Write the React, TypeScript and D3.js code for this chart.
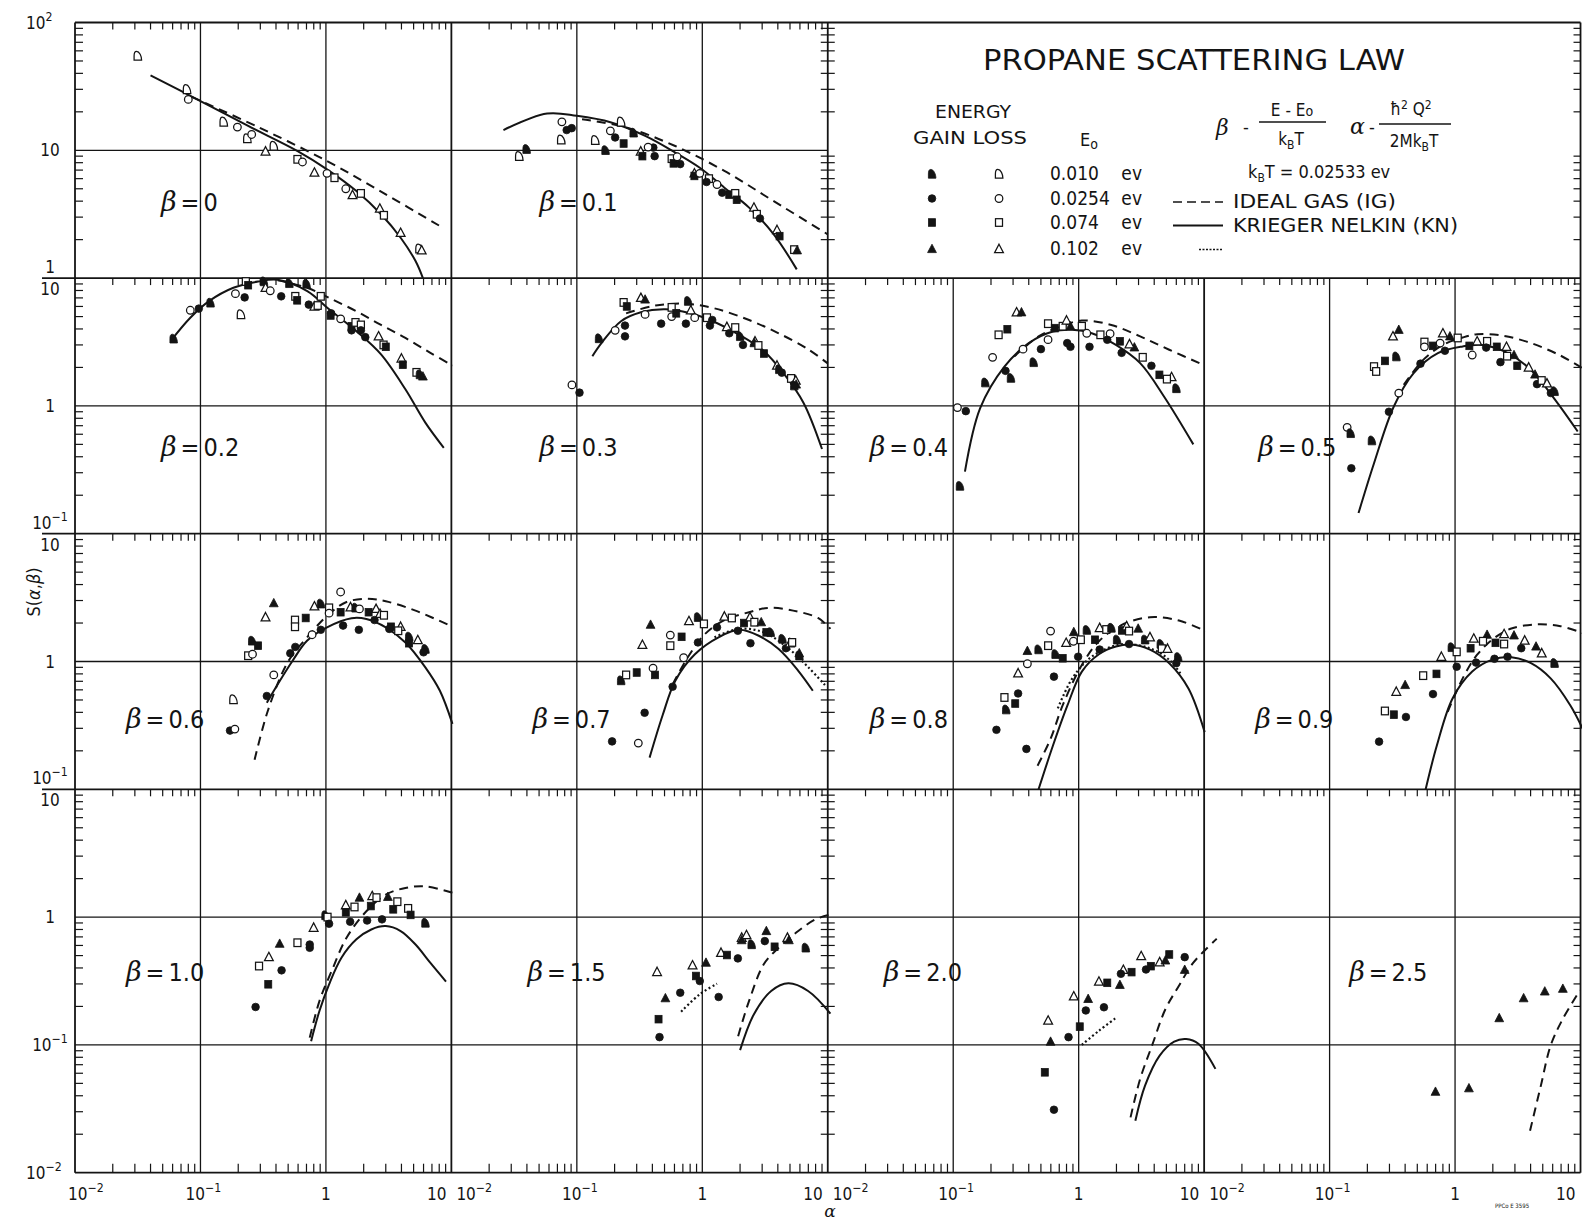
import * as d3 from "d3"

type Pt = [number, number, string]
type XY = [number, number]

// marker codes: D = 0.010 ev, C = 0.0254 ev, S = 0.074 ev, T = 0.102 ev ; g = energy gain (filled), l = energy loss (open)

const BETAS = ["0", "0.1", "0.2", "0.3", "0.4", "0.5", "0.6", "0.7", "0.8", "0.9", "1.0", "1.5", "2.0", "2.5"]

const ENERGY_VALUES = ["0.010", "0.0254", "0.074", "0.102"]
const ENERGY_MARKERS = ["D", "C", "S", "T"]
const LINE_NAMES = ["IDEAL GAS (IG)", "KRIEGER NELKIN (KN)", ""]

const Y_DOMAINS: XY[] = [[1, 100], [0.1, 10], [0.1, 10], [0.01, 10]]
const X_DOMAIN: XY = [0.01, 10]

// beta = 0
const pts_b00: Pt[] = [
    [0.0316, 54.8, "Dl"], [0.078, 30, "Dl"], [0.08, 25, "Cl"], [0.153, 16.7, "Dl"], [0.197, 15.2, "Cl"],
    [0.236, 12.4, "Dl"], [0.256, 13.3, "Cl"], [0.33, 9.8, "Tl"], [0.384, 10.8, "Dl"], [0.593, 8.5, "Sl"],
    [0.65, 8.1, "Cl"], [0.81, 6.7, "Tl"], [1.02, 6.6, "Cl"], [1.17, 6.1, "Sl"], [1.44, 5.0, "Cl"],
    [1.63, 4.47, "Tl"], [1.9, 4.6, "Sl"], [2.69, 3.5, "Tl"], [2.9, 3.1, "Sl"], [3.94, 2.26, "Tl"],
    [5.56, 1.7, "Dl"], [5.8, 1.65, "Tl"],
]
const kn_b00: XY[] = [
    [0.04, 38.6], [0.1, 24.3], [0.24, 15.5], [0.59, 9.9], [1.02, 7.1], [1.75, 4.8],
    [2.75, 3.16], [3.94, 2.07], [5.18, 1.36], [5.93, 1.0],
]
const ig_b00: XY[] = [[0.085, 26.2], [0.288, 15.2], [1.02, 8.24], [3.0, 4.52], [8.13, 2.55]]

// beta = 0.1
const pts_b01: Pt[] = [
    [0.0347, 9.0, "Dl"], [0.0397, 10.2, "Dg"], [0.076, 16.7, "Cl"], [0.083, 14.4, "Cg"], [0.091, 14.9, "Cg"],
    [0.075, 12.1, "Dl"], [0.14, 12, "Dl"], [0.169, 10, "Dg"], [0.225, 16.7, "Dl"], [0.185, 14.2, "Cl"],
    [0.202, 12.6, "Cg"], [0.236, 11.3, "Sg"], [0.283, 13.7, "Dg"], [0.323, 9.8, "Tl"], [0.333, 9.0, "Sg"],
    [0.407, 10.5, "Cg"], [0.417, 9.0, "Cg"], [0.37, 10.6, "Cl"], [0.57, 8.6, "Sl"], [0.59, 7.9, "Sg"],
    [0.667, 7.8, "Cg"], [0.63, 8.9, "Cl"], [0.865, 6.6, "Tl"], [0.865, 6.3, "Sg"], [0.955, 6.6, "Cl"],
    [1.13, 6.0, "Sl"], [1.08, 5.65, "Cg"], [1.31, 5.4, "Cl"], [1.44, 4.66, "Cg"], [1.64, 4.5, "Sg"],
    [1.83, 4.6, "Sl"], [1.88, 4.1, "Sg"], [2.58, 3.56, "Tl"], [2.72, 3.16, "Sl"], [2.88, 2.93, "Cg"],
    [3.94, 2.38, "Tl"], [4.13, 2.13, "Sg"], [5.4, 1.67, "Sl"], [5.7, 1.65, "Tg"],
]
const kn_b01: XY[] = [
    [0.026, 14.4], [0.058, 19.4], [0.1, 18.6], [0.188, 16.5], [0.354, 12.9], [0.608, 9.6],
    [0.955, 7.3], [1.5, 5.1], [2.36, 3.56], [3.71, 2.2], [5.66, 1.17],
]
const ig_b01: XY[] = [[0.11, 17.5], [0.247, 15.1], [0.608, 10.8], [1.5, 6.9], [3.71, 4.0], [10, 2.2]]

// beta = 0.2
const pts_b02: Pt[] = [
    [0.061, 3.35, "Dg"], [0.083, 5.6, "Cl"], [0.097, 5.77, "Cg"], [0.12, 6.4, "Dg"], [0.19, 7.55, "Cl"],
    [0.225, 7.06, "Cg"], [0.21, 5.2, "Dl"], [0.23, 9.4, "Sl"], [0.24, 8.8, "Sg"], [0.32, 9.4, "Dg"],
    [0.33, 8.4, "Tl"], [0.36, 7.96, "Cl"], [0.44, 7.2, "Cg"], [0.51, 9.1, "Dg"], [0.57, 7.2, "Sl"],
    [0.59, 6.7, "Sg"], [0.7, 9.0, "Dg"], [0.73, 6.2, "Cg"], [0.81, 6.0, "Tl"], [0.86, 6.1, "Sl"],
    [0.91, 7.2, "Sl"], [1.09, 5.1, "Sg"], [1.1, 5.3, "Cg"], [1.31, 4.8, "Cl"], [1.6, 4.2, "Sg"],
    [1.6, 3.9, "Cg"], [1.72, 4.5, "Sl"], [1.9, 4.3, "Sl"], [1.9, 3.9, "Cg"], [2.06, 3.45, "Cg"],
    [2.63, 3.5, "Tl"], [2.88, 3.0, "Sl"], [3.0, 2.9, "Sg"], [4.0, 2.35, "Tl"], [4.1, 2.1, "Sg"],
    [5.27, 1.83, "Sl"], [5.6, 1.76, "Dg"], [5.93, 1.7, "Tg"],
]
const kn_b02: XY[] = [
    [0.059, 3.3], [0.083, 4.9], [0.117, 6.6], [0.183, 8.4], [0.288, 9.4], [0.413, 9.7], [0.71, 7.9],
    [1.06, 5.7], [1.75, 3.84], [2.75, 2.53], [4.3, 1.35], [6.2, 0.74], [8.7, 0.47],
]
const ig_b02: XY[] = [[0.413, 9.6], [0.71, 8.4], [1.06, 7.0], [1.75, 5.5], [2.75, 4.3], [4.3, 3.4], [6.8, 2.6], [10.2, 2.07]]

// beta = 0.3
const pts_b03: Pt[] = [
    [0.0914, 1.46, "Cl"], [0.105, 1.27, "Cg"], [0.15, 3.37, "Dg"], [0.202, 3.9, "Cl"], [0.242, 4.25, "Cg"],
    [0.242, 3.5, "Cg"], [0.236, 6.45, "Sl"], [0.25, 6.0, "Sg"], [0.324, 7.0, "Tl"], [0.35, 6.8, "Tg"],
    [0.35, 5.2, "Cl"], [0.47, 4.4, "Cg"], [0.57, 5.0, "Cl"], [0.57, 5.9, "Sl"], [0.62, 5.3, "Sg"],
    [0.74, 4.4, "Cg"], [0.77, 6.6, "Dg"], [0.81, 5.6, "Tl"], [0.87, 4.9, "Cl"], [1.09, 4.9, "Sl"],
    [1.15, 4.25, "Cg"], [1.2, 4.7, "Cg"], [1.57, 4.15, "Tl"], [1.64, 3.7, "Cg"], [1.83, 4.1, "Sl"],
    [2.0, 3.5, "Dg"], [2.11, 3.0, "Cg"], [2.63, 3.2, "Tl"], [2.6, 3.1, "Tg"], [2.8, 2.97, "Sl"],
    [3.1, 2.57, "Sg"], [3.94, 2.07, "Tl"], [4.1, 1.93, "Dg"], [4.3, 1.82, "Cg"], [5.1, 1.64, "Sl"],
    [5.56, 1.58, "Tl"], [5.6, 1.47, "Tg"], [5.4, 1.44, "Dg"],
]
const kn_b03: XY[] = [
    [0.133, 2.45], [0.157, 3.1], [0.225, 4.6], [0.324, 5.4], [0.508, 5.7], [0.8, 5.3], [1.15, 4.7],
    [1.97, 3.6], [3.09, 2.69], [4.4, 1.82], [6.4, 1.06], [9.0, 0.46],
]
const ig_b03: XY[] = [[0.247, 5.3], [0.424, 6.1], [0.73, 6.3], [1.25, 5.8], [2.36, 4.7], [4.06, 3.7], [7.0, 2.77], [10, 2.15]]

// beta = 0.4
const pts_b04: Pt[] = [
    [0.108, 0.97, "Cl"], [0.126, 0.91, "Cg"], [0.113, 0.236, "Dg"], [0.18, 1.52, "Dg"], [0.206, 2.4, "Cl"],
    [0.261, 1.88, "Cg"], [0.288, 1.65, "Dg"], [0.23, 3.6, "Sl"], [0.27, 3.98, "Sg"], [0.32, 5.4, "Tl"],
    [0.35, 5.4, "Tg"], [0.36, 2.78, "Cl"], [0.437, 2.19, "Dg"], [0.5, 2.78, "Cg"], [0.57, 3.3, "Cl"],
    [0.57, 4.4, "Sl"], [0.645, 4.06, "Sg"], [0.746, 4.2, "Sl"], [0.8, 4.66, "Tl"], [0.86, 4.2, "Tg"],
    [0.81, 3.1, "Cg"], [0.86, 2.9, "Cg"], [1.06, 4.2, "Sl"], [1.16, 3.7, "Cl"], [1.22, 2.9, "Cg"],
    [1.49, 3.6, "Sl"], [1.78, 3.67, "Cl"], [1.69, 3.29, "Cg"], [2.13, 3.2, "Sg"], [2.2, 2.6, "Cg"],
    [2.78, 2.87, "Tg"], [2.54, 3.04, "Tl"], [3.24, 2.4, "Sl"], [3.8, 2.06, "Cg"], [4.4, 1.75, "Sg"],
    [5.5, 1.68, "Tl"], [5.05, 1.62, "Sl"], [6.0, 1.37, "Dg"],
]
const kn_b04: XY[] = [
    [0.124, 0.306], [0.164, 0.96], [0.256, 2.03], [0.4, 3.1], [0.624, 3.82], [0.89, 3.94], [1.27, 3.7],
    [1.98, 3.0], [3.09, 2.16], [4.8, 1.18], [8.2, 0.5],
]
const ig_b04: XY[] = [[0.306, 2.43], [0.479, 3.5], [0.746, 4.24], [1.06, 4.66], [1.82, 4.3], [3.09, 3.5], [5.27, 2.75], [9.8, 2.1]]

// beta = 0.5
const pts_b05: Pt[] = [
    [0.138, 0.68, "Cl"], [0.147, 0.61, "Dg"], [0.149, 0.325, "Cg"], [0.217, 0.535, "Dg"], [0.226, 2.03, "Sl"],
    [0.235, 1.86, "Sl"], [0.276, 2.25, "Sg"], [0.32, 3.5, "Tl"], [0.356, 3.94, "Tg"], [0.34, 2.43, "Dg"],
    [0.356, 1.26, "Cl"], [0.297, 0.9, "Cg"], [0.53, 2.14, "Cg"], [0.57, 3.16, "Sl"], [0.57, 2.9, "Cl"],
    [0.667, 2.95, "Sg"], [0.76, 3.1, "Cl"], [0.8, 3.7, "Tl"], [0.91, 3.5, "Tg"], [1.05, 3.4, "Sl"],
    [0.83, 2.7, "Cg"], [1.5, 3.2, "Tl"], [1.8, 3.2, "Sl"], [1.3, 2.95, "Sg"], [1.77, 2.86, "Cg"],
    [1.37, 2.5, "Cl"], [2.15, 2.9, "Sg"], [2.57, 2.9, "Tl"], [2.95, 2.5, "Tg"], [2.6, 2.45, "Sl"],
    [2.3, 2.2, "Cg"], [3.13, 2.06, "Sg"], [3.86, 2.0, "Tl"], [4.34, 1.76, "Tg"], [4.5, 1.48, "Cg"],
    [4.9, 1.58, "Sl"], [5.4, 1.5, "Tl"], [5.8, 1.26, "Cg"], [6.2, 1.3, "Dg"],
]
const kn_b05: XY[] = [
    [0.17, 0.145], [0.226, 0.356], [0.325, 0.99], [0.466, 1.8], [0.73, 2.59], [1.15, 2.92], [1.64, 3.0],
    [2.57, 2.62], [4.03, 1.91], [6.3, 1.11], [9.5, 0.63],
]
const ig_b05: XY[] = [[0.39, 1.46], [0.557, 2.29], [0.8, 3.0], [1.15, 3.43], [1.5, 3.64], [2.35, 3.56], [4.03, 3.1], [6.9, 2.48], [10.4, 1.97]]

// beta = 0.6
const pts_b06: Pt[] = [
    [0.172, 0.288, "Cg"], [0.188, 0.296, "Cl"], [0.183, 0.505, "Dl"], [0.24, 1.11, "Sl"], [0.26, 1.14, "Cl"],
    [0.258, 1.45, "Dg"], [0.288, 1.33, "Sg"], [0.33, 2.22, "Tl"], [0.384, 2.86, "Tg"], [0.384, 0.785, "Cl"],
    [0.338, 0.537, "Cg"], [0.567, 2.11, "Sl"], [0.567, 1.87, "Sl"], [0.69, 2.19, "Sg"], [0.52, 1.16, "Cg"],
    [0.57, 1.3, "Cg"], [0.776, 1.62, "Cl"], [0.91, 1.77, "Cg"], [0.81, 2.7, "Tl"], [0.91, 2.83, "Dg"],
    [1.06, 2.63, "Sl"], [1.06, 2.39, "Cl"], [1.31, 3.5, "Cl"], [1.31, 2.43, "Sg"], [1.37, 1.91, "Cg"],
    [1.57, 2.66, "Tl"], [1.72, 2.63, "Dg"], [1.85, 2.58, "Cl"], [1.83, 1.77, "Cg"], [2.19, 2.43, "Sg"],
    [2.51, 2.58, "Tl"], [2.44, 2.11, "Cg"], [2.7, 2.36, "Tl"], [2.9, 2.3, "Sl"], [3.3, 1.87, "Sg"],
    [3.2, 1.8, "Cg"], [3.94, 1.87, "Tl"], [3.77, 1.74, "Sl"], [4.6, 1.56, "Dg"], [4.6, 1.39, "Sg"],
    [5.4, 1.47, "Tl"], [6.2, 1.25, "Dg"], [6.0, 1.18, "Cg"],
]
const kn_b06: XY[] = [
    [0.338, 0.475], [0.413, 0.664], [0.541, 1.01], [0.71, 1.46], [1.02, 1.85], [1.6, 2.18], [2.1, 2.15],
    [3.0, 1.85], [4.3, 1.41], [6.2, 0.9], [8.1, 0.59], [10.2, 0.325],
]
const ig_b06: XY[] = [
    [0.27, 0.17], [0.344, 0.41], [0.494, 0.98], [0.71, 1.55], [1.06, 2.36], [1.46, 2.92], [2.1, 3.1],
    [3.0, 2.96], [5.18, 2.5], [10.2, 1.87],
]

// beta = 0.7
const pts_b07: Pt[] = [
    [0.191, 0.237, "Cg"], [0.309, 0.23, "Cl"], [0.347, 0.397, "Cg"], [0.225, 0.71, "Dg"], [0.247, 0.785, "Sl"],
    [0.3, 0.82, "Sg"], [0.405, 0.887, "Cl"], [0.42, 0.785, "Sg"], [0.333, 1.35, "Tl"], [0.387, 1.94, "Tg"],
    [0.556, 1.61, "Cl"], [0.556, 1.33, "Sl"], [0.684, 1.56, "Sg"], [0.71, 1.07, "Cl"], [0.58, 0.635, "Cg"],
    [0.783, 2.07, "Tl"], [0.923, 2.22, "Dg"], [1.03, 1.97, "Sl"], [0.923, 1.41, "Cg"], [1.31, 1.85, "Cg"],
    [1.5, 2.25, "Tl"], [1.72, 2.19, "Sl"], [2.15, 2.0, "Sg"], [2.4, 2.22, "Tl"], [2.6, 2.03, "Sl"],
    [2.95, 2.03, "Tg"], [1.92, 1.74, "Cg"], [2.42, 1.39, "Cg"], [3.24, 1.69, "Sg"], [3.5, 1.69, "Dg"],
    [4.35, 1.5, "Dg"], [4.64, 1.27, "Cg"], [4.99, 1.39, "Tl"], [5.2, 1.41, "Sl"], [5.93, 1.11, "Dg"],
    [5.93, 1.16, "Tg"],
]
const kn_b07: XY[] = [
    [0.38, 0.177], [0.485, 0.385], [0.608, 0.705], [0.873, 1.14], [1.37, 1.56], [1.97, 1.77], [2.82, 1.59],
    [4.06, 1.25], [5.82, 0.845], [7.6, 0.59],
]
const ig_b07: XY[] = [
    [0.582, 0.664], [0.762, 1.07], [1.05, 1.64], [1.5, 2.11], [2.36, 2.43], [3.38, 2.63], [5.3, 2.5],
    [8.36, 2.19], [10.5, 1.8],
]
const dot_b07: XY[] = [[1.25, 1.55], [1.97, 1.8], [3.09, 1.69], [4.85, 1.27], [7.0, 0.9], [9.5, 0.655]]

// beta = 0.8
const pts_b08: Pt[] = [
    [0.221, 0.292, "Cg"], [0.383, 0.207, "Cg"], [0.264, 0.42, "Dg"], [0.312, 0.469, "Sg"], [0.256, 0.523, "Sl"],
    [0.329, 0.562, "Cg"], [0.329, 0.809, "Tl"], [0.39, 0.96, "Cl"], [0.635, 0.761, "Cg"], [0.39, 1.21, "Tg"],
    [0.478, 1.24, "Dg"], [0.597, 1.73, "Cl"], [0.571, 1.33, "Sl"], [0.653, 1.14, "Dg"], [0.746, 1.06, "Sg"],
    [0.795, 1.4, "Tl"], [0.908, 1.44, "Cl"], [0.914, 1.7, "Tg"], [1.16, 1.76, "Dg"], [1.04, 1.48, "Sl"],
    [0.99, 1.09, "Cg"], [1.35, 1.48, "Sg"], [1.47, 1.24, "Cg"], [1.47, 1.83, "Tl"], [1.66, 1.78, "Sl"],
    [1.82, 1.83, "Dg"], [2.02, 1.48, "Dg"], [2.52, 1.37, "Cg"], [2.21, 1.75, "Sg"], [2.41, 1.89, "Tl"],
    [2.52, 1.73, "Sl"], [2.98, 1.81, "Tg"], [3.38, 1.48, "Dg"], [3.7, 1.55, "Tl"], [4.5, 1.37, "Dg"],
    [4.6, 1.26, "Sl"], [5.1, 1.26, "Tl"], [6.2, 1.08, "Dg"], [6.0, 0.97, "Cg"],
]
const kn_b08: XY[] = [
    [0.479, 0.1], [0.624, 0.22], [0.815, 0.455], [1.06, 0.834], [1.45, 1.14], [1.98, 1.31], [2.59, 1.36],
    [3.7, 1.24], [5.27, 0.97], [7.5, 0.615], [10.1, 0.28],
]
const ig_b08: XY[] = [
    [0.47, 0.153], [0.597, 0.248], [0.746, 0.455], [1.06, 0.94], [1.45, 1.44], [2.17, 1.92], [3.7, 2.22],
    [6.3, 2.09], [10.3, 1.73],
]
const dot_b08: XY[] = [[0.682, 0.43], [0.89, 0.738], [1.27, 1.09], [2.17, 1.36], [3.7, 1.27], [5.27, 1.03], [6.6, 0.785]]

// beta = 0.9
const pts_b09: Pt[] = [
    [0.248, 0.236, "Cg"], [0.276, 0.41, "Sl"], [0.325, 0.384, "Sg"], [0.406, 0.368, "Cg"], [0.34, 0.58, "Tl"],
    [0.4, 0.655, "Tg"], [0.667, 0.556, "Cg"], [0.557, 0.775, "Sl"], [0.711, 0.8, "Sg"], [0.778, 1.09, "Tl"],
    [0.94, 1.29, "Dg"], [1.03, 1.19, "Sl"], [1.03, 0.91, "Cg"], [1.41, 1.51, "Tl"], [1.8, 1.62, "Tg"],
    [1.67, 1.44, "Sl"], [1.33, 1.27, "Sg"], [1.47, 0.98, "Cg"], [2.06, 1.05, "Cg"], [2.1, 1.4, "Sg"],
    [2.46, 1.64, "Tl"], [2.95, 1.6, "Tg"], [2.46, 1.37, "Sl"], [2.62, 1.09, "Cg"], [3.37, 1.27, "Cg"],
    [3.59, 1.46, "Tl"], [4.42, 1.31, "Tg"], [4.91, 1.16, "Tl"], [6.2, 0.97, "Dg"],
]
const kn_b09: XY[] = [
    [0.583, 0.1], [0.716, 0.22], [0.955, 0.514], [1.37, 0.834], [1.96, 1.03], [2.81, 1.08], [4.03, 0.97],
    [5.78, 0.738], [8.28, 0.455], [10.4, 0.298],
]
const ig_b09: XY[] = [[0.873, 0.403], [1.15, 0.738], [1.5, 1.13], [2.06, 1.53], [2.81, 1.81], [4.42, 1.95], [6.92, 1.89], [10.4, 1.67]]

// beta = 1.0
const pts_b10: Pt[] = [
    [0.275, 0.198, "Cg"], [0.347, 0.298, "Sg"], [0.293, 0.414, "Sl"], [0.351, 0.487, "Tl"], [0.443, 0.383, "Cg"],
    [0.428, 0.619, "Tg"], [0.593, 0.63, "Sl"], [0.743, 0.575, "Cg"], [0.743, 0.61, "Cg"], [0.798, 0.826, "Tl"],
    [0.99, 1.03, "Dg"], [1.03, 1.0, "Sl"], [1.06, 0.887, "Cg"], [1.44, 1.24, "Tl"], [1.69, 1.2, "Sl"],
    [1.44, 1.09, "Sg"], [1.56, 0.92, "Cg"], [1.85, 1.42, "Tg"], [2.13, 0.94, "Cg"], [2.34, 1.46, "Tl"],
    [2.53, 1.42, "Sl"], [2.28, 1.22, "Sg"], [3.12, 1.44, "Tg"], [2.8, 0.96, "Cg"], [3.44, 1.15, "Sg"],
    [3.71, 1.32, "Sl"], [4.52, 1.17, "Sl"], [4.73, 1.04, "Sg"], [6.2, 0.9, "Dg"],
]
const kn_b10: XY[] = [
    [0.762, 0.107], [0.889, 0.185], [1.06, 0.298], [1.33, 0.481], [1.75, 0.67], [2.3, 0.8], [3.0, 0.85],
    [3.94, 0.778], [5.18, 0.61], [6.78, 0.44], [9.06, 0.313],
]
const ig_b10: XY[] = [
    [0.743, 0.114], [0.889, 0.221], [1.11, 0.378], [1.46, 0.69], [2.1, 1.11], [3.0, 1.5], [4.3, 1.69],
    [6.2, 1.74], [10.2, 1.55],
]

// beta = 1.5
const pts_b15: Pt[] = [
    [0.456, 0.115, "Cg"], [0.448, 0.159, "Sg"], [0.436, 0.372, "Tl"], [0.508, 0.232, "Tg"], [0.667, 0.256, "Cg"],
    [0.836, 0.419, "Tl"], [0.89, 0.346, "Sg"], [0.955, 0.316, "Cg"], [1.07, 0.44, "Tg"], [1.35, 0.237, "Cg"],
    [1.41, 0.526, "Tl"], [1.57, 0.505, "Sg"], [1.92, 0.475, "Cg"], [2.06, 0.69, "Tl"], [2.06, 0.66, "Tg"],
    [2.47, 0.611, "Dg"], [2.25, 0.723, "Tl"], [3.15, 0.649, "Cg"], [3.24, 0.778, "Tg"], [3.77, 0.586, "Sg"],
    [4.77, 0.69, "Tl"], [4.9, 0.66, "Tg"], [6.67, 0.575, "Dg"],
]
const kn_b15: XY[] = [[2.0, 0.091], [2.58, 0.174], [3.54, 0.264], [4.85, 0.303], [6.97, 0.264], [10.5, 0.176]]
const ig_b15: XY[] = [[1.93, 0.117], [2.36, 0.221], [3.09, 0.427], [4.06, 0.575], [5.82, 0.778], [7.98, 0.96], [10.5, 1.05]]
const dot_b15: XY[] = [[0.678, 0.182], [0.955, 0.249], [1.31, 0.301]]

// beta = 2.0
const pts_b20: Pt[] = [
    [0.635, 0.0311, "Cg"], [0.537, 0.061, "Sg"], [0.597, 0.106, "Tg"], [0.571, 0.155, "Tl"], [0.83, 0.115, "Cg"],
    [1.02, 0.139, "Sg"], [1.14, 0.186, "Cg"], [0.914, 0.24, "Tl"], [1.19, 0.229, "Tg"], [1.59, 0.197, "Cg"],
    [1.45, 0.313, "Tl"], [1.69, 0.306, "Sg"], [2.13, 0.295, "Tg"], [2.27, 0.387, "Tl"], [2.17, 0.36, "Cg"],
    [2.64, 0.371, "Sg"], [3.15, 0.495, "Tl"], [3.44, 0.389, "Cg"], [3.76, 0.413, "Sg"], [4.42, 0.444, "Tl"],
    [4.91, 0.458, "Tg"], [5.27, 0.51, "Sg"], [7.0, 0.486, "Cg"], [7.0, 0.387, "Tg"],
]
const kn_b20: XY[] = [[2.83, 0.0255], [3.38, 0.048], [4.42, 0.0824], [5.77, 0.106], [7.19, 0.111], [9.0, 0.102], [12.3, 0.0649]]
const ig_b20: XY[] = [[2.59, 0.0271], [3.09, 0.0542], [3.86, 0.1], [4.91, 0.19], [6.3, 0.29], [8.2, 0.44], [12.6, 0.676]]
const dot_b20: XY[] = [[1.06, 0.1], [1.45, 0.129], [2.02, 0.165]]

// beta = 2.5
const pts_b25: Pt[] = [
    [0.698, 0.043, "Tg"], [1.29, 0.0458, "Tg"], [2.25, 0.162, "Tg"], [3.52, 0.232, "Tg"], [5.19, 0.262, "Tg"],
    [7.23, 0.275, "Tg"],
]
const ig_b25: XY[] = [[3.96, 0.0213], [4.83, 0.048], [5.78, 0.0989], [7.23, 0.16], [9.9, 0.267]]

// ---------------- layout ----------------
const W = 1582
const H = 1222
const X0 = 75
const DEC_X = 125.46
const Y0 = 22.5
const DEC_Y = 127.8
const PANEL_W = 3 * DEC_X
const INK = "#141414"
const FONT = "'Liberation Sans Narrow', 'DejaVu Sans Condensed', 'DejaVu Sans', sans-serif"

const ROW_TOP = [0, 2, 4, 6].map(k => Y0 + k * DEC_Y)
const ROW_DEC = [2, 2, 2, 3]

// row, col, label offset from panel top-left (baseline)
const PANELS = [
    { beta: BETAS[0], row: 0, col: 0, pts: pts_b00, kn: kn_b00, ig: ig_b00, dot: [] as XY[], lx: 86, ly: 188 },
    { beta: BETAS[1], row: 0, col: 1, pts: pts_b01, kn: kn_b01, ig: ig_b01, dot: [] as XY[], lx: 88, ly: 188 },
    { beta: BETAS[2], row: 1, col: 0, pts: pts_b02, kn: kn_b02, ig: ig_b02, dot: [] as XY[], lx: 86, ly: 178 },
    { beta: BETAS[3], row: 1, col: 1, pts: pts_b03, kn: kn_b03, ig: ig_b03, dot: [] as XY[], lx: 88, ly: 178 },
    { beta: BETAS[4], row: 1, col: 2, pts: pts_b04, kn: kn_b04, ig: ig_b04, dot: [] as XY[], lx: 42, ly: 178 },
    { beta: BETAS[5], row: 1, col: 3, pts: pts_b05, kn: kn_b05, ig: ig_b05, dot: [] as XY[], lx: 54, ly: 178 },
    { beta: BETAS[6], row: 2, col: 0, pts: pts_b06, kn: kn_b06, ig: ig_b06, dot: [] as XY[], lx: 51, ly: 194 },
    { beta: BETAS[7], row: 2, col: 1, pts: pts_b07, kn: kn_b07, ig: ig_b07, dot: dot_b07, lx: 81, ly: 194 },
    { beta: BETAS[8], row: 2, col: 2, pts: pts_b08, kn: kn_b08, ig: ig_b08, dot: dot_b08, lx: 42, ly: 194 },
    { beta: BETAS[9], row: 2, col: 3, pts: pts_b09, kn: kn_b09, ig: ig_b09, dot: [] as XY[], lx: 51, ly: 194 },
    { beta: BETAS[10], row: 3, col: 0, pts: pts_b10, kn: kn_b10, ig: ig_b10, dot: [] as XY[], lx: 51, ly: 192 },
    { beta: BETAS[11], row: 3, col: 1, pts: pts_b15, kn: kn_b15, ig: ig_b15, dot: dot_b15, lx: 76, ly: 192 },
    { beta: BETAS[12], row: 3, col: 2, pts: pts_b20, kn: kn_b20, ig: ig_b20, dot: dot_b20, lx: 56, ly: 192 },
    { beta: BETAS[13], row: 3, col: 3, pts: pts_b25, kn: [] as XY[], ig: ig_b25, dot: [] as XY[], lx: 145, ly: 192 },
]

function Marker({ x, y, code }: { x: number; y: number; code: string }) {
    const kind = code[0]
    const filled = code[1] === "g"
    const common = { fill: filled ? INK : "#fff", stroke: INK, strokeWidth: filled ? 0.8 : 1.25 }
    if (kind === "C") return <circle cx={x} cy={y} r={3.8} {...common} />
    if (kind === "S") return <rect x={x - 3.5} y={y - 3.8} width={7} height={7.6} {...common} />
    if (kind === "T") return <path d={`M${x},${y - 4.8}L${x + 4.4},${y + 3.6}L${x - 4.4},${y + 3.6}Z`} {...common} />
    return (
        <path
            transform={`translate(${x},${y})`}
            d="M-3.6,4.2L3.9,4.2C3.9,0.4 1.8,-4.6 -1.2,-4.6C-3.2,-4.6 -3.6,-2.6 -3.6,0Z"
            {...common}
        />
    )
}

function Pow10({ x, y, e, anchor = "middle", size = 17 }: { x: number; y: number; e: number; anchor?: string; size?: number }) {
    if (e === 0) return <text x={x} y={y} textAnchor={anchor} fontSize={size}>1</text>
    if (e === 1) return <text x={x} y={y} textAnchor={anchor} fontSize={size}>10</text>
    return (
        <text x={x} y={y} textAnchor={anchor} fontSize={size}>
            10<tspan dy={-8} fontSize={size * 0.72}>{e < 0 ? `\u2212${-e}` : e}</tspan>
        </text>
    )
}

function Panel({ p }: { p: typeof PANELS[number] }) {
    const left = X0 + p.col * PANEL_W
    const top = ROW_TOP[p.row]
    const x = d3.scaleLog().domain(X_DOMAIN).range([left, left + PANEL_W])
    const y = d3.scaleLog().domain(Y_DOMAINS[p.row]).range([top + ROW_DEC[p.row] * DEC_Y, top])
    const line = d3.line<XY>().x(d => x(d[0])).y(d => y(d[1])).curve(d3.curveCatmullRom.alpha(0.5))

    return (
        <g>
            {p.ig.length > 0 && (
                <path d={line(p.ig) ?? ""} fill="none" stroke={INK} strokeWidth={2} strokeDasharray="9,6" />
            )}
            {p.kn.length > 0 && <path d={line(p.kn) ?? ""} fill="none" stroke={INK} strokeWidth={2} />}
            {p.dot.length > 0 && (
                <path d={line(p.dot) ?? ""} fill="none" stroke={INK} strokeWidth={2.2} strokeDasharray="2,2.5" />
            )}
            {p.pts.map((d, i) => (
                <Marker key={i} x={x(d[0])} y={y(d[1])} code={d[2]} />
            ))}
            <text x={left + p.lx} y={top + p.ly} fontSize={25}>
                <tspan fontStyle="italic" fontFamily="'DejaVu Serif', serif" fontSize={27}>β</tspan>
                <tspan dx={4}>=</tspan>
                <tspan dx={4}>{p.beta}</tspan>
            </text>
        </g>
    )
}

function Grid() {
    const els: JSX.Element[] = []
    const bottom = Y0 + 9 * DEC_Y
    const right = X0 + 12 * DEC_X
    const legendBottom = ROW_TOP[1]
    for (let i = 0; i <= 12; i++) {
        const xx = X0 + i * DEC_X
        const y1 = i > 6 && i < 12 ? legendBottom : Y0
        const boundary = i % 3 === 0
        els.push(<line key={`v${i}`} x1={xx} x2={xx} y1={y1} y2={bottom} stroke={INK} strokeWidth={boundary ? 1.8 : 1.3} />)
    }
    for (let j = 0; j <= 9; j++) {
        const yy = Y0 + j * DEC_Y
        const x2 = j === 1 ? X0 + 6 * DEC_X : right
        const isRowEdge = j === 2 || j === 4 || j === 6
        const x1 = isRowEdge ? 42 : X0
        els.push(<line key={`h${j}`} x1={x1} x2={x2} y1={yy} y2={yy} stroke={INK} strokeWidth={isRowEdge || j === 0 || j === 9 ? 1.8 : 1.3} />)
    }
    const minors = [2, 3, 4, 5, 6, 7, 8, 9].map(k => Math.log10(k))
    const tick = 7
    for (let i = 0; i < 12; i++) {
        minors.forEach((m, k) => {
            const xx = X0 + (i + m) * DEC_X
            if (i < 6) els.push(<line key={`tt${i}-${k}`} x1={xx} x2={xx} y1={Y0} y2={Y0 + tick} stroke={INK} strokeWidth={1.2} />)
            ;[ROW_TOP[1], ROW_TOP[2], ROW_TOP[3]].forEach((yy, r) =>
                els.push(<line key={`tr${r}-${i}-${k}`} x1={xx} x2={xx} y1={yy} y2={yy + tick} stroke={INK} strokeWidth={1.2} />)
            )
            els.push(<line key={`tb${i}-${k}`} x1={xx} x2={xx} y1={bottom} y2={bottom - tick - 2} stroke={INK} strokeWidth={1.2} />)
        })
    }
    for (let j = 0; j < 9; j++) {
        minors.forEach((m, k) => {
            const yy = Y0 + (j + 1 - m) * DEC_Y
            const xm = X0 + 6 * DEC_X
            els.push(<line key={`yl${j}-${k}`} x1={X0} x2={X0 + tick + 1} y1={yy} y2={yy} stroke={INK} strokeWidth={1.2} />)
            els.push(<line key={`ym${j}-${k}`} x1={xm - tick} x2={xm + tick} y1={yy} y2={yy} stroke={INK} strokeWidth={1.2} />)
            els.push(<line key={`yr${j}-${k}`} x1={right - tick} x2={right} y1={yy} y2={yy} stroke={INK} strokeWidth={1.2} />)
        })
    }
    return <g>{els}</g>
}

function AxisLabels() {
    const els: JSX.Element[] = []
    Y_DOMAINS.forEach((dom, r) => {
        const top = ROW_TOP[r]
        const eTop = Math.round(Math.log10(dom[1]))
        const eBot = Math.round(Math.log10(dom[0]))
        for (let e = eTop; e >= eBot; e--) {
            const yy = top + (eTop - e) * DEC_Y
            let yb = yy + 6
            if (e === eTop && r > 0) yb = yy + 17
            if (e === eBot && r < 3) yb = yy - 5
            const edge = e === 2 || e === -2
            els.push(<Pow10 key={`yl${r}${e}`} x={edge ? 26 : 50} y={yb} e={e} anchor={edge ? "start" : "middle"} />)
        }
    })
    const yb = Y0 + 9 * DEC_Y + 27
    for (let c = 0; c < 4; c++) {
        const left = X0 + c * PANEL_W
        const x = d3.scaleLog().domain(X_DOMAIN).range([left, left + PANEL_W])
        x.ticks(3).filter(v => [0.01, 0.1, 1, 10].includes(+v.toPrecision(1))).forEach(v => {
            const e = Math.round(Math.log10(v))
            const xx = x(v)
            if (e === -2) els.push(<Pow10 key={`xb${c}${e}`} x={c === 0 ? xx - 7 : xx + 5} y={yb} e={e} anchor="start" />)
            else if (e === 1) els.push(<Pow10 key={`xb${c}${e}`} x={xx - 5} y={yb} e={e} anchor="end" />)
            else els.push(<Pow10 key={`xb${c}${e}`} x={xx + (e === -1 ? 3 : 0)} y={yb} e={e} anchor="middle" />)
        })
    }
    return <g>{els}</g>
}

function Legend() {
    const gx = 932
    const lx = 999
    const rows = [174, 198.5, 222.5, 249]
    return (
        <g>
            <text x={983} y={70} fontSize={29} textLength={422} lengthAdjust="spacingAndGlyphs">
                PROPANE  SCATTERING  LAW
            </text>
            <text x={935} y={118} fontSize={18} textLength={76} lengthAdjust="spacingAndGlyphs">ENERGY</text>
            <text x={913} y={144} fontSize={18} textLength={114} lengthAdjust="spacingAndGlyphs">GAIN  LOSS</text>
            <text x={1080} y={146} fontSize={18}>
                E<tspan dy={3} fontSize={14}>o</tspan>
            </text>
            {ENERGY_VALUES.map((v, i) => (
                <g key={v}>
                    <Marker x={gx} y={rows[i]} code={`${ENERGY_MARKERS[i]}g`} />
                    <Marker x={lx} y={rows[i]} code={`${ENERGY_MARKERS[i]}l`} />
                    <text x={1050} y={rows[i] + 6} fontSize={19}>{v}</text>
                    <text x={1142} y={rows[i] + 6} fontSize={19} textAnchor="end">ev</text>
                </g>
            ))}
            <text x={1216} y={135} fontSize={22} fontStyle="italic" fontFamily="'DejaVu Serif', serif">β</text>
            <text x={1243} y={133} fontSize={18}>-</text>
            <text x={1292} y={116} fontSize={17} textAnchor="middle">
                E - E<tspan fontSize={14}>o</tspan>
            </text>
            <line x1={1259} x2={1326} y1={122} y2={122} stroke={INK} strokeWidth={1.3} />
            <text x={1291} y={145} fontSize={17} textAnchor="middle">
                k<tspan dy={4} fontSize={12}>B</tspan><tspan dy={-4}>T</tspan>
            </text>
            <text x={1350} y={134} fontSize={22} fontStyle="italic" fontFamily="'DejaVu Serif', serif">α</text>
            <text x={1369} y={133} fontSize={18}>-</text>
            <text x={1411} y={115} fontSize={17} textAnchor="middle">
                ħ<tspan dy={-6} fontSize={12}>2</tspan><tspan dy={6}> Q</tspan><tspan dy={-6} fontSize={12}>2</tspan>
            </text>
            <line x1={1379} x2={1451} y1={124} y2={124} stroke={INK} strokeWidth={1.3} />
            <text x={1414} y={147} fontSize={17} textAnchor="middle">
                2Mk<tspan dy={4} fontSize={12}>B</tspan><tspan dy={-4}>T</tspan>
            </text>
            <text x={1248} y={178} fontSize={18}>
                k<tspan dy={4} fontSize={12}>B</tspan><tspan dy={-4}>T = 0.02533 ev</tspan>
            </text>
            <line x1={1173} x2={1223} y1={202} y2={202} stroke={INK} strokeWidth={1.6} strokeDasharray="9,5" />
            <text x={1233} y={208} fontSize={19} textLength={163} lengthAdjust="spacingAndGlyphs">{LINE_NAMES[0]}</text>
            <line x1={1173} x2={1223} y1={225.5} y2={225.5} stroke={INK} strokeWidth={1.8} />
            <text x={1233} y={232} fontSize={19} textLength={225} lengthAdjust="spacingAndGlyphs">{LINE_NAMES[1]}</text>
            <line x1={1199} x2={1223} y1={249.5} y2={249.5} stroke={INK} strokeWidth={1.4} strokeDasharray="2,1.5" />
        </g>
    )
}

export default function App() {
    return (
        <svg
            width={W}
            height={H}
            viewBox={`0 0 ${W} ${H}`}
            style={{ position: "absolute", left: 0, top: 0, display: "block" }}
            fontFamily={FONT}
            fill={INK}
        >
            <rect x={0} y={0} width={W} height={H} fill="#fff" />
            <Grid />
            {PANELS.map(p => (
                <Panel key={p.beta} p={p} />
            ))}
            <Legend />
            <AxisLabels />
            <text x={0} y={0} fontSize={18} transform={`translate(40,592) rotate(-90)`} textAnchor="middle">
                S(<tspan fontStyle="italic">α</tspan>,<tspan fontStyle="italic">β</tspan>)
            </text>
            <text x={830} y={1217} fontSize={17} fontStyle="italic" fontFamily="'DejaVu Serif', serif" textAnchor="middle">
                α
            </text>
            <text x={1512} y={1208} fontSize={6} textAnchor="middle">PPCo E 3595</text>
        </svg>
    )
}
